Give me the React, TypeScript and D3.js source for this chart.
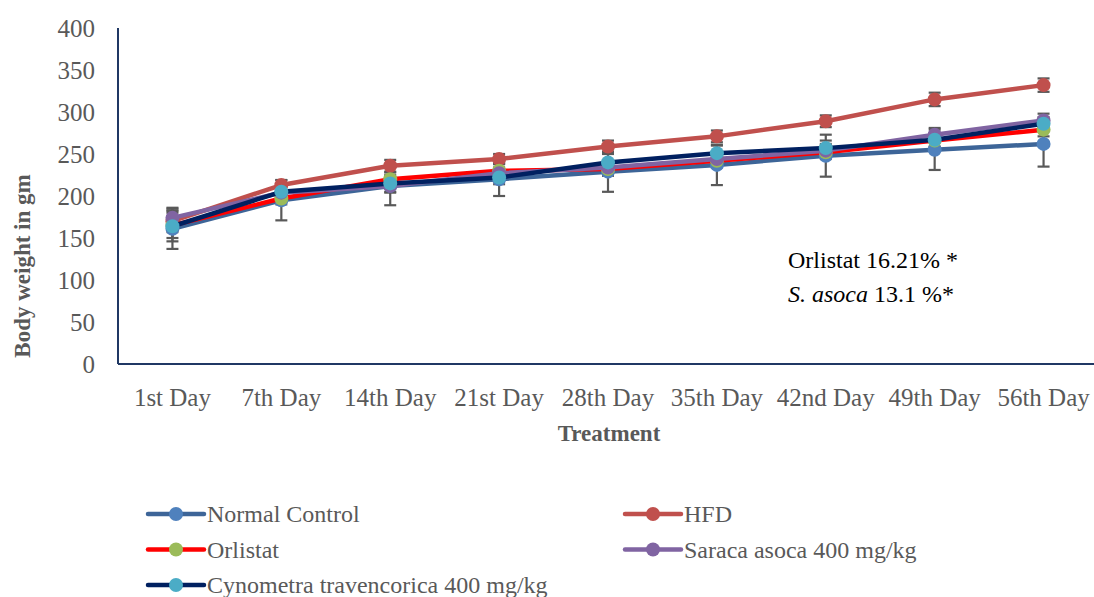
import React from "react";
import * as d3 from "d3";

const categories = ["1st Day", "7th Day", "14th Day", "21st Day", "28th Day", "35th Day", "42nd Day", "49th Day", "56th Day"];
const yTicks = [0, 50, 100, 150, 200, 250, 300, 350, 400];

const normalControl = [161, 195, 212, 220, 229, 237, 248, 255, 262];
const hfd = [170, 213, 236, 244, 259, 271, 289, 315, 332];
const orlistat = [165, 197, 220, 230, 232, 242, 252, 266, 279];
const saraca = [174, 204, 212, 227, 234, 244, 254, 273, 290];
const cynometra = [164, 205, 215, 222, 240, 251, 257, 267, 286];

const normalErr = [24, 24, 23, 20, 24, 24, 25, 24, 27];
const hfdErr = [13, 6, 7, 6, 7, 7, 7, 8, 8];
const orlistatErr = [15, 7, 8, 8, 8, 8, 8, 8, 8];
const saracaErr = [12, 8, 8, 7, 8, 8, 8, 8, 8];
const cynometraErr = [18, 8, 10, 8, 10, 9, 9, 8, 8];

const seriesNames = ["Normal Control", "HFD", "Orlistat", "Saraca asoca 400 mg/kg", "Cynometra travencorica 400 mg/kg"];
const lineColors = ["#3D6598", "#C0504D", "#FF0000", "#8064A2", "#002060"];
const markerColors = ["#4F81BD", "#C0504D", "#9BBB59", "#8064A2", "#4BACC6"];

const seriesValues = [normalControl, hfd, orlistat, saraca, cynometra];
const seriesErrors = [normalErr, hfdErr, orlistatErr, saracaErr, cynometraErr];

const FONT = "'Liberation Serif', 'Times New Roman', serif";
const ts = { fontFamily: FONT };

export default function App() {
  const W = 1094, H = 597;
  const x = d3.scaleBand<string>().domain(categories).range([118, 1098]);
  const y = d3.scaleLinear().domain([0, 400]).range([364, 28]);
  const cx = (c: string) => (x(c) as number) + x.bandwidth() / 2;
  const line = d3.line<number>().x((_, i) => cx(categories[i])).y((v) => y(v));

  const legendItems = seriesNames.map((name, i) => ({
    name, i,
    lx: i % 2 === 0 ? 148 : 625,
    ly: 514 + Math.floor(i / 2) * 35.5,
  }));

  return (
    <svg width={W} height={H} style={{ position: "absolute", left: 0, top: 0, background: "#fff", fontFamily: FONT }}>
      <line x1={118} x2={118} y1={y(400)} y2={y(0)} stroke="#203864" strokeWidth={2} />
      <line x1={118} x2={1098} y1={y(0)} y2={y(0)} stroke="#203864" strokeWidth={2} />
      {yTicks.map((t) => (
        <text key={t} style={ts} x={95} y={y(t)} dy="0.35em" textAnchor="end" fontSize={25} fill="#595959">{t}</text>
      ))}
      {categories.map((c) => (
        <text key={c} style={ts} x={cx(c)} y={397} dy="0.35em" textAnchor="middle" fontSize={25} fill="#595959">{c}</text>
      ))}
      <text style={ts} x={609} y={433} dy="0.35em" textAnchor="middle" fontSize={23} fontWeight="bold" fill="#595959">Treatment</text>
      <text style={ts} transform={`translate(22,266) rotate(-90)`} textAnchor="middle" dy="0.35em" fontSize={23} fontWeight="bold" fill="#595959">Body weight in gm</text>

      {seriesValues.map((vals, s) => (
        <g key={"e" + s} stroke="#595959" strokeWidth={2.2}>
          {vals.map((v, i) => {
            const px = cx(categories[i]);
            const e = seriesErrors[s][i];
            return (
              <g key={i}>
                <line x1={px} x2={px} y1={y(v + e)} y2={y(v - e)} />
                <line x1={px - 6} x2={px + 6} y1={y(v + e)} y2={y(v + e)} />
                <line x1={px - 6} x2={px + 6} y1={y(v - e)} y2={y(v - e)} />
              </g>
            );
          })}
        </g>
      ))}

      {seriesValues.map((vals, s) => (
        <g key={"s" + s}>
          <path d={line(vals) || ""} fill="none" stroke={lineColors[s]} strokeWidth={4.5} strokeLinejoin="round" strokeLinecap="round" />
          {vals.map((v, i) => (
            <circle key={i} cx={cx(categories[i])} cy={y(v)} r={7} fill={markerColors[s]} />
          ))}
        </g>
      ))}

      <text style={ts} x={788} y={268} fontSize={24} fill="#000">Orlistat 16.21% *</text>
      <text style={ts} x={788} y={302} fontSize={24} fill="#000"><tspan style={{ fontStyle: "italic" }}>S. asoca</tspan> 13.1 %*</text>

      {legendItems.map((it) => (
        <g key={it.name}>
          <line x1={it.lx} x2={it.lx + 56} y1={it.ly} y2={it.ly} stroke={lineColors[it.i]} strokeWidth={4.5} strokeLinecap="round" />
          <circle cx={it.lx + 28} cy={it.ly} r={7} fill={markerColors[it.i]} />
          <text style={ts} x={it.lx + 59} y={it.ly} dy="0.35em" fontSize={24} fill="#595959">{it.name}</text>
        </g>
      ))}
    </svg>
  );
}
